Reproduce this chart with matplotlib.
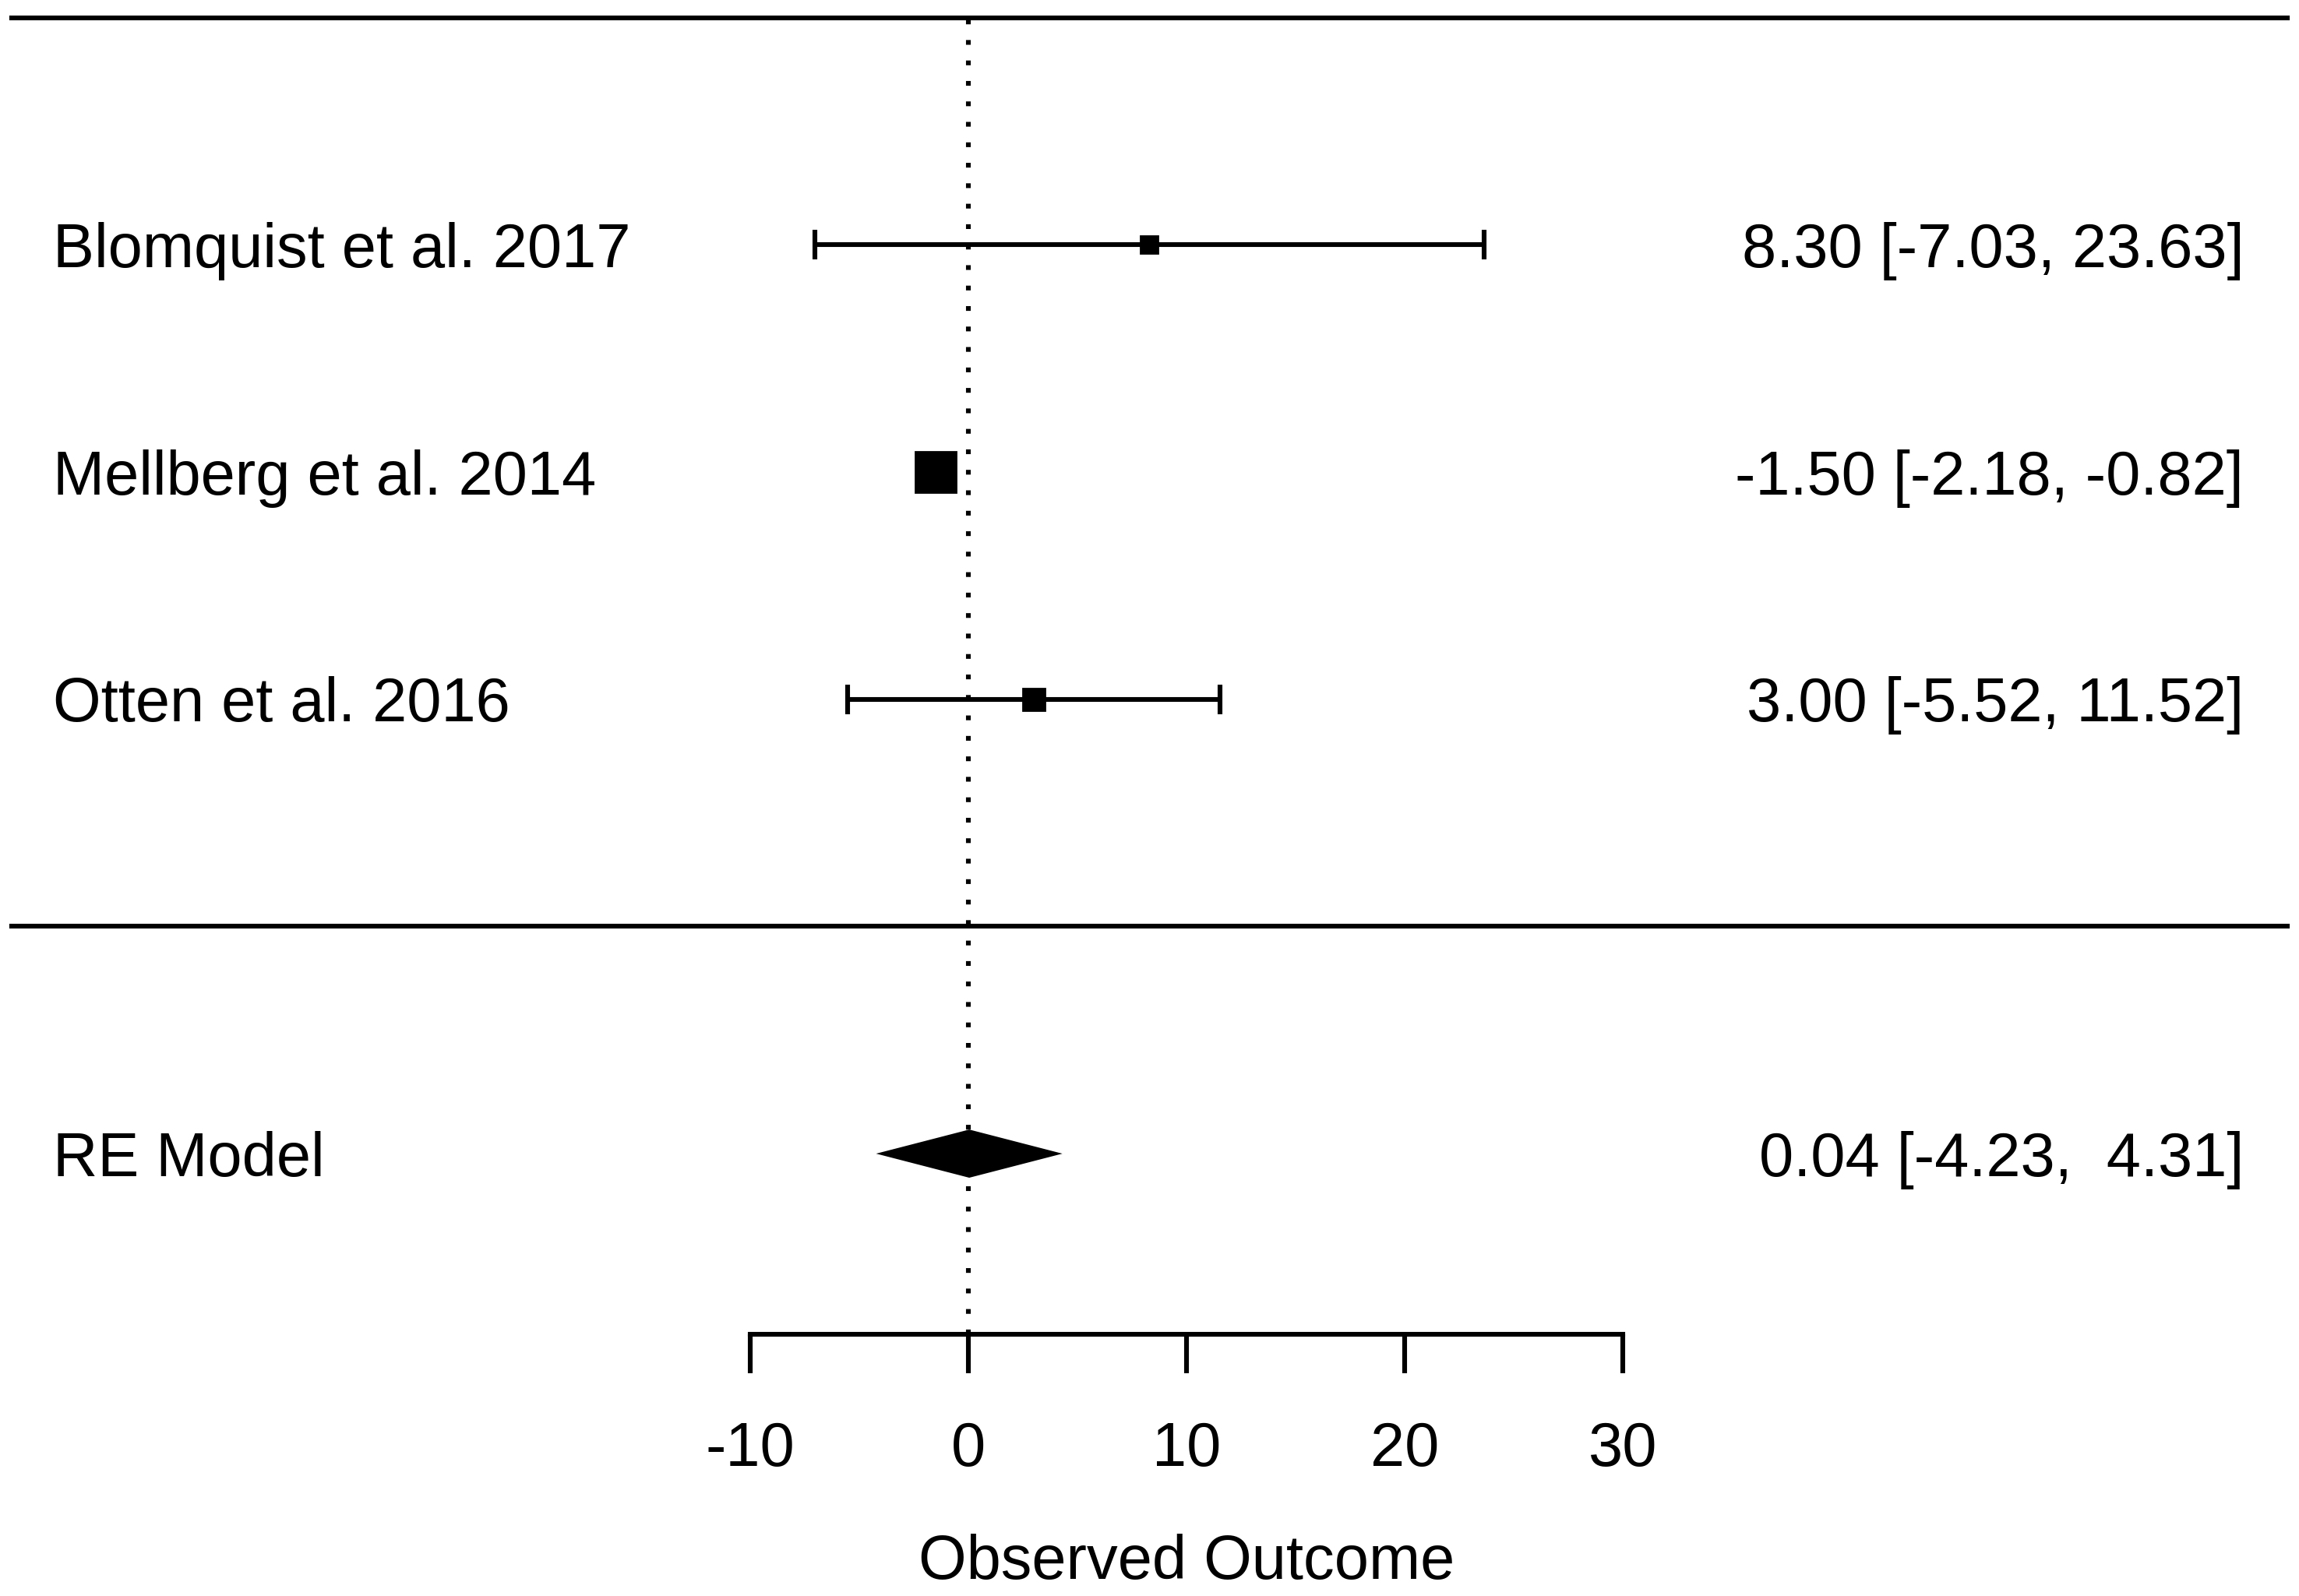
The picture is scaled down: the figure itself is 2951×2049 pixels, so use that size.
import numpy as np
import matplotlib
matplotlib.use("Agg")
import matplotlib.pyplot as plt
import matplotlib.transforms as mtransforms

plt.rcParams['font.family'] = ['Liberation Sans', 'DejaVu Sans']

# study data
studies = ["Blomquist et al. 2017", "Mellberg et al. 2014", "Otten et al. 2016"]
est = [8.30, -1.50, 3.00]
ci_lo = [-7.03, -2.18, -5.52]
ci_hi = [23.63, -0.82, 11.52]
sq_size = [7.9, 18.7, 10.1]   # marker side in points

re_label = "RE Model"
re_est = 0.04
re_lo = -4.23
re_hi = 4.31

xticks = [-10, 0, 10, 20, 30]

fs = 28.6
lw = 2.2

fig = plt.figure(figsize=(14.755, 10.245), dpi=200)
ax = fig.add_axes([0, 0.164, 1, 0.836])

# x: -10 at px 963, 30 at px 2083 of 2951
unit = (2083 - 963) / 40 / 2951
x0 = -10 - (963 / 2951) / unit
x1 = 30 + (1 - 2083 / 2951) / unit
ax.set_xlim(x0, x1)
ax.set_ylim(-1.795, 4.078)

for s in ['top', 'left', 'right']:
    ax.spines[s].set_visible(False)
ax.spines['bottom'].set_bounds(-10, 30)
ax.spines['bottom'].set_linewidth(lw)
ax.set_yticks([])
ax.set_xticks(xticks)
ax.set_xticklabels([str(t) for t in xticks], fontsize=fs)
ax.tick_params(axis='x', direction='out', length=18, width=lw, pad=22)
ax.set_xlabel("Observed Outcome", fontsize=fs, labelpad=25)
# R centres the axis title on the axis range
ax.xaxis.label.set_x((10 - x0) / (x1 - x0))

k = len(studies)
ypos = np.arange(k, 0, -1)

# header / separator lines
ax.axhline(k + 1, xmin=0.005, xmax=0.995, color='black', lw=lw, clip_on=False)
ax.axhline(0, xmin=0.005, xmax=0.995, color='black', lw=lw)

# reference line at 0
ax.vlines(0, -1.795, k + 1, colors='black', lw=lw, linestyles=(0, (1, 3.3)), clip_on=False)

for i in range(k):
    ax.errorbar(est[i], ypos[i], xerr=[[est[i] - ci_lo[i]], [ci_hi[i] - est[i]]],
                fmt='none', ecolor='black', elinewidth=lw, capsize=6.8, capthick=lw)
    ax.plot(est[i], ypos[i], marker='s', color='black', markersize=sq_size[i], zorder=5)

# summary diamond
re_y = -1
h = 0.106
ax.fill([re_lo, re_est, re_hi, re_est], [re_y, re_y + h, re_y, re_y - h], color='black', lw=0)

# text rows: caps centred on the row
trans = mtransforms.blended_transform_factory(ax.transAxes, ax.transData)
trans = mtransforms.offset_copy(trans, fig=fig, y=-0.358 * fs, units='points')
labels = studies + [re_label]
rows = list(ypos) + [re_y]
right = ["%.2f [%.2f, %.2f]" % (e, l, u) for e, l, u in zip(est, ci_lo, ci_hi)]
right.append("%.2f [%.2f,  %.2f]" % (re_est, re_lo, re_hi))
for lab, r, txt in zip(labels, rows, right):
    ax.text(0.023, r, lab, transform=trans, ha='left', va='baseline', fontsize=fs)
    ax.text(0.976, r, txt, transform=trans, ha='right', va='baseline', fontsize=fs)

fig.savefig("out.png", dpi=200)
